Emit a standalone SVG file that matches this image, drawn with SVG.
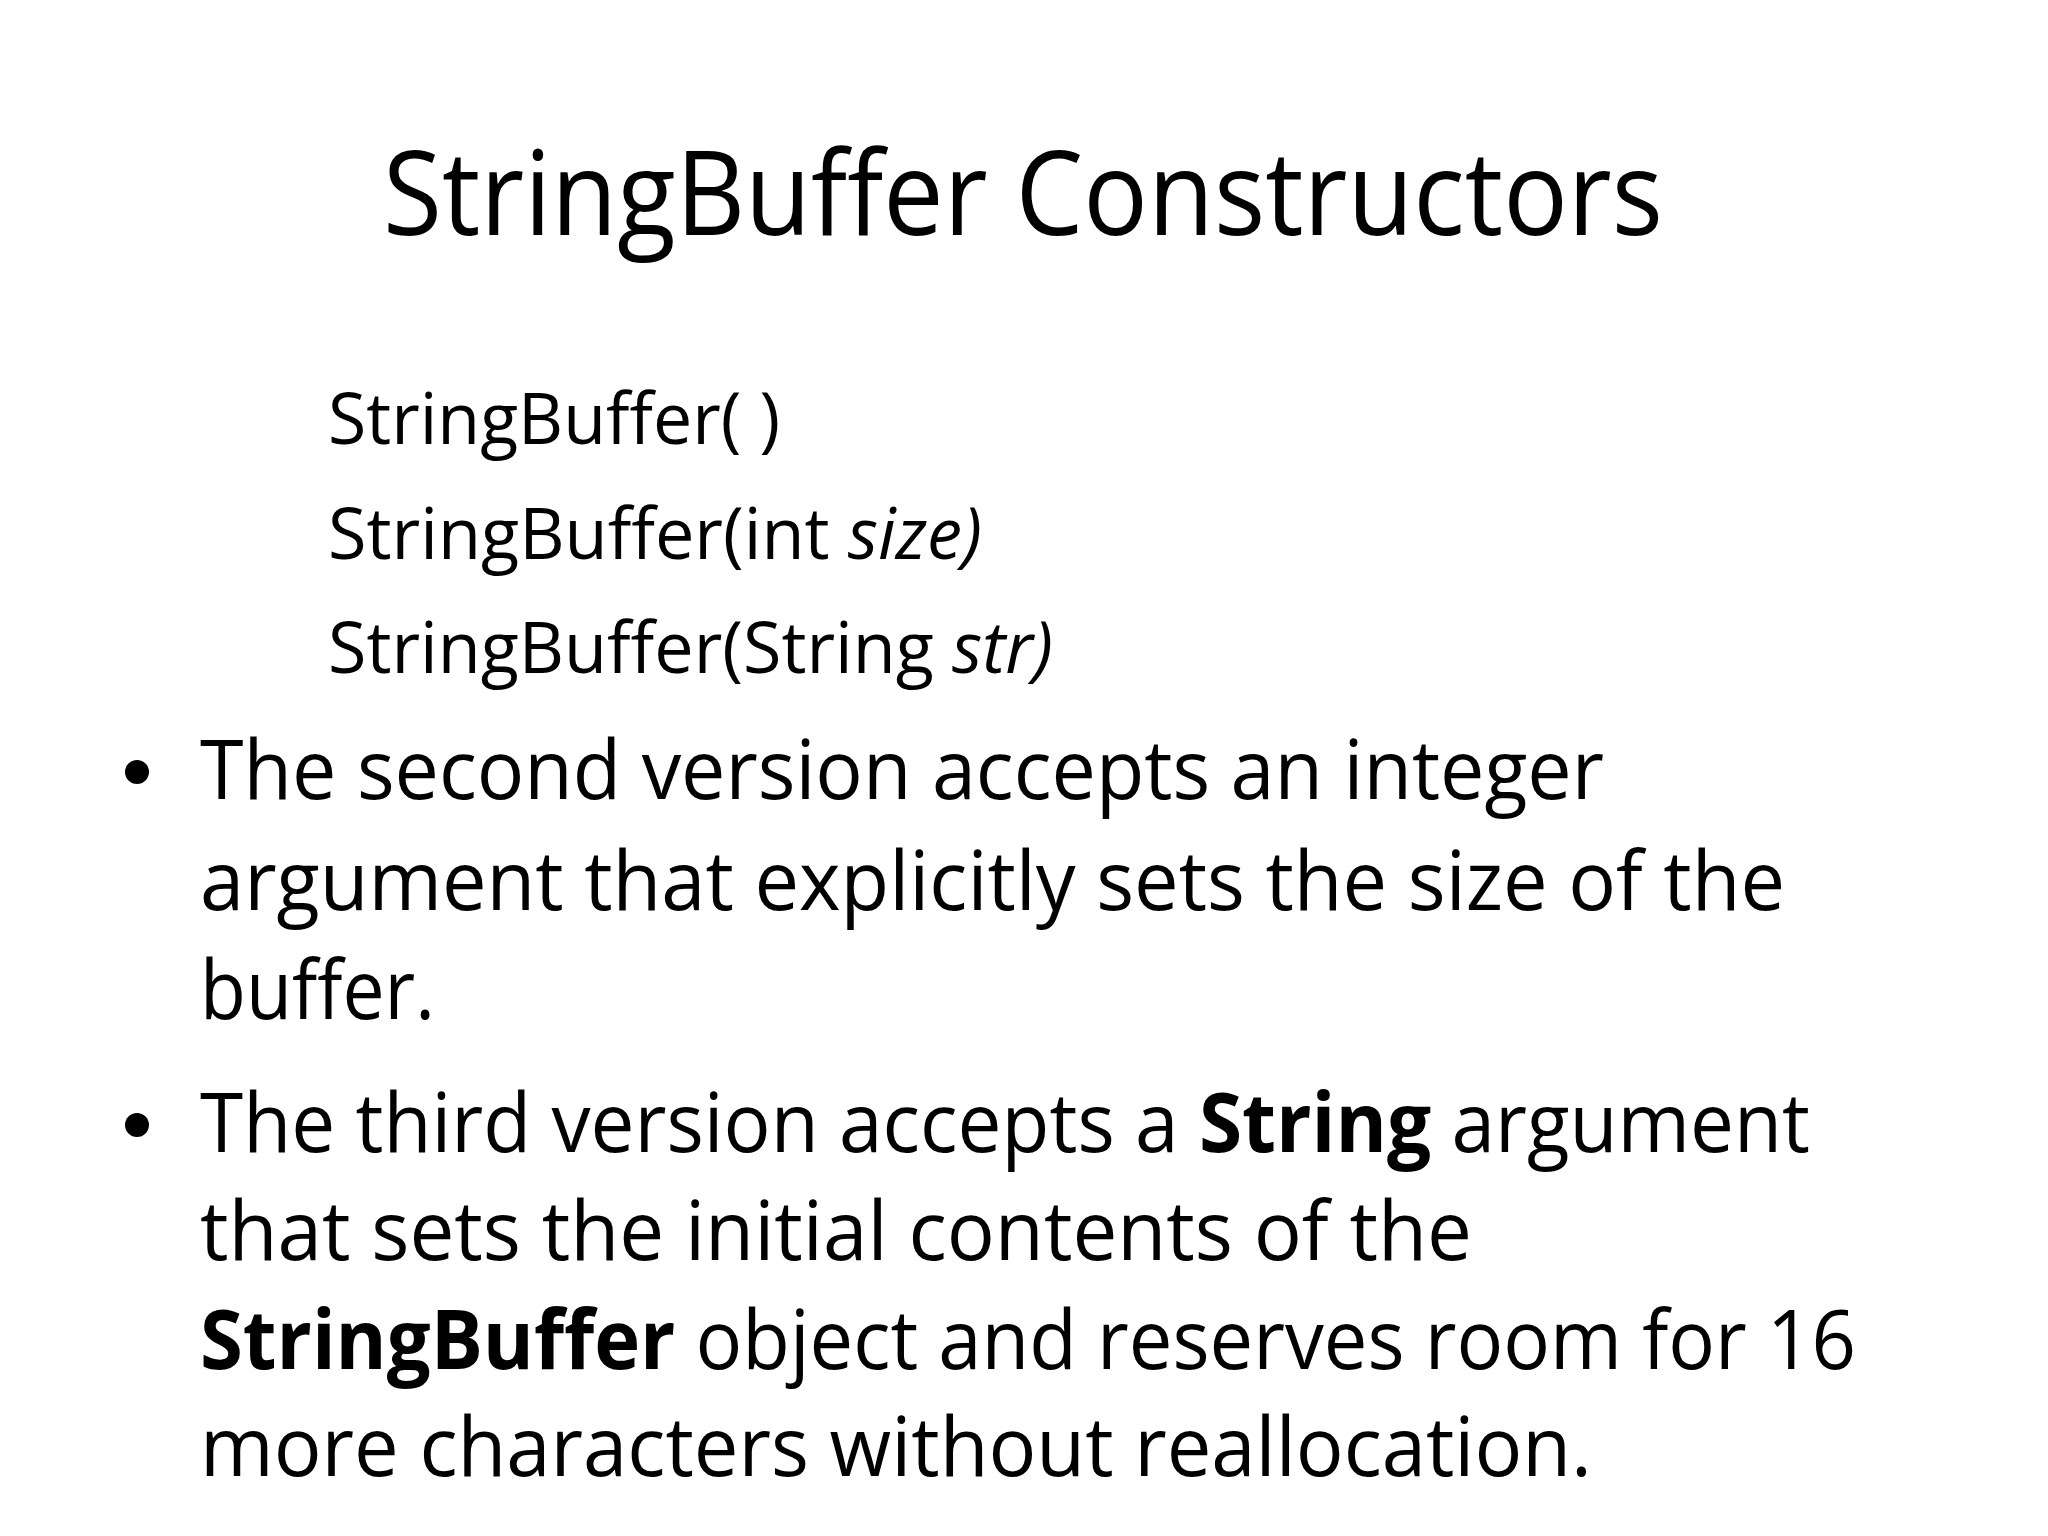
<svg xmlns="http://www.w3.org/2000/svg" width="2048" height="1536" viewBox="0 0 2048 1536">
<style>
text{font-family:"Open Sans","Noto Sans",sans-serif;fill:#000}
.t{font-size:118px}
.c{font-size:72px}
.b{font-size:82px}
</style>
<rect width="2048" height="1536" fill="#fff"/>
<text class="t" x="383" y="235" textLength="1280" lengthAdjust="spacingAndGlyphs">StringBuffer Constructors</text>
<text class="c" x="328" y="444" textLength="452" lengthAdjust="spacingAndGlyphs">StringBuffer( )</text>
<text class="c" x="328" y="559" textLength="654" lengthAdjust="spacingAndGlyphs">StringBuffer(int <tspan font-style="italic">size)</tspan></text>
<text class="c" x="328" y="673" textLength="725" lengthAdjust="spacingAndGlyphs">StringBuffer(String <tspan font-style="italic">str)</tspan></text>
<circle cx="137" cy="772" r="12"/>
<text class="b" x="200" y="799" textLength="1404" lengthAdjust="spacingAndGlyphs">The second version accepts an integer</text>
<text class="b" x="200" y="910" textLength="1585" lengthAdjust="spacingAndGlyphs">argument that explicitly sets the size of the</text>
<text class="b" x="200" y="1019" textLength="235" lengthAdjust="spacingAndGlyphs">buffer.</text>
<circle cx="137" cy="1125" r="12"/>
<text class="b" x="200" y="1152" textLength="1610" lengthAdjust="spacingAndGlyphs">The third version accepts a <tspan font-weight="bold">String</tspan> argument</text>
<text class="b" x="200" y="1260" textLength="1272" lengthAdjust="spacingAndGlyphs">that sets the initial contents of the</text>
<text class="b" x="200" y="1369" textLength="1656" lengthAdjust="spacingAndGlyphs"><tspan font-weight="bold">StringBuffer</tspan> object and reserves room for 16</text>
<text class="b" x="200" y="1476" textLength="1392" lengthAdjust="spacingAndGlyphs">more characters without reallocation.</text>
</svg>
